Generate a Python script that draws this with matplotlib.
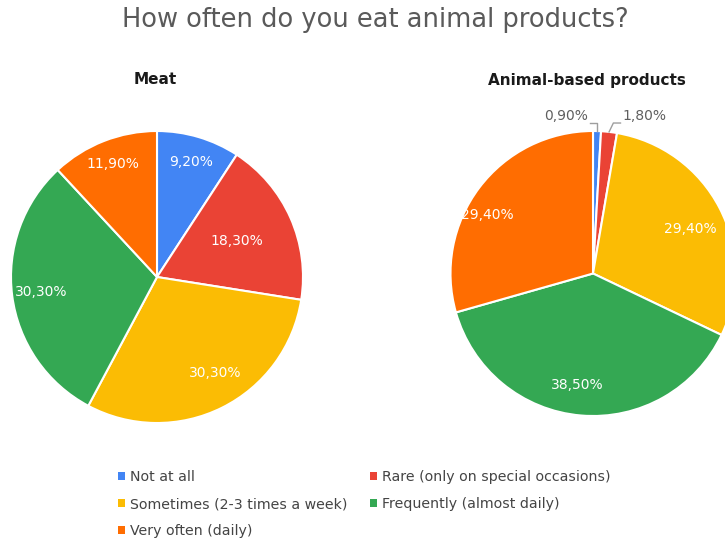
import numpy as np
import matplotlib.pyplot as plt
from matplotlib.patches import Patch

plt.rcParams['font.family'] = ['DejaVu Sans']

categories = ['Not at all', 'Rare (only on special occasions)',
              'Sometimes (2-3 times a week)', 'Frequently (almost daily)',
              'Very often (daily)']
meat = [9.2, 18.3, 30.3, 30.3, 11.9]
animal_based = [0.9, 1.8, 29.4, 38.5, 29.4]
colors = ['#4285F4', '#EA4335', '#FBBC04', '#34A853', '#FF6D01']

W, H = 725, 542
fig = plt.figure(figsize=(W / 100, H / 100), dpi=100)


def pie_axes(cx, cy, r):
    # axes box in pixels, centred on (cx, cy) measured from top-left
    return fig.add_axes([(cx - r) / W, (H - cy - r) / H, 2 * r / W, 2 * r / H])


def fmt(v):
    return f'{v:.2f}'.replace('.', ',') + '%'


def draw_pie(ax, values, label_pos):
    wedges, _ = ax.pie(values, colors=colors, startangle=90, counterclock=False,
                       wedgeprops=dict(edgecolor='white', linewidth=1.5))
    ax.set_xlim(-1, 1)
    ax.set_ylim(-1, 1)
    ax.set_aspect('auto')
    for w, v, pos in zip(wedges, values, label_pos):
        if pos is None:
            continue
        rr, shift = pos
        ang = np.deg2rad((w.theta1 + w.theta2) / 2 + shift)
        ax.text(rr * np.cos(ang), rr * np.sin(ang), fmt(v), color='white',
                fontsize=10, ha='center', va='center')
    return wedges


# Meat
ax1 = pie_axes(157, 277, 146)
draw_pie(ax1, meat, [(0.82, 0), (0.6, 0), (0.77, 5), (0.8, 0), (0.83, 0)])
fig.text(155 / W, 1 - 80 / H, 'Meat', ha='center', va='center',
         fontsize=11, fontweight='bold', color='#1a1a1a')

# Animal-based products
ax2 = pie_axes(593, 273.5, 142.5)
wedges2 = draw_pie(ax2, animal_based,
                   [None, None, (0.75, -3), (0.79, -3), (0.85, 8)])
fig.text(587 / W, 1 - 80 / H, 'Animal-based products', ha='center', va='center',
         fontsize=11, fontweight='bold', color='#1a1a1a')

# leader lines for the two small slices
for w, v, side in zip(wedges2[:2], animal_based[:2], [-1, 1]):
    ang = np.deg2rad((w.theta1 + w.theta2) / 2)
    x0, y0 = np.cos(ang), np.sin(ang)
    y1 = 1.056
    x1 = x0 + 0.03 if side > 0 else x0
    x2 = x1 + side * 0.05
    ax2.plot([x0, x1, x2], [y0, y1, y1], color='#9e9e9e', lw=1, clip_on=False)
    ax2.text(x2 + side * 0.015, 1.105, fmt(v), color='#5f5f5f', fontsize=10,
             ha='left' if side > 0 else 'right', va='center')

fig.text(375 / W, 1 - 20 / H, 'How often do you eat animal products?',
         ha='center', va='center', fontsize=18.5, color='#5a5a5a')

order = [0, 2, 4, 1, 3]
handles = [Patch(facecolor=colors[i], edgecolor='none') for i in order]
labels = [categories[i] for i in order]
fig.legend(handles, labels, ncol=2, loc='upper left',
           bbox_to_anchor=(118 / W, 1 - 470 / H), frameon=False,
           fontsize=10.2, labelcolor='#444444', handlelength=0.5,
           handleheight=0.5, handletextpad=0.35, columnspacing=1.6,
           labelspacing=0.92, borderpad=0, borderaxespad=0)

fig.savefig('out.png', dpi=100)
